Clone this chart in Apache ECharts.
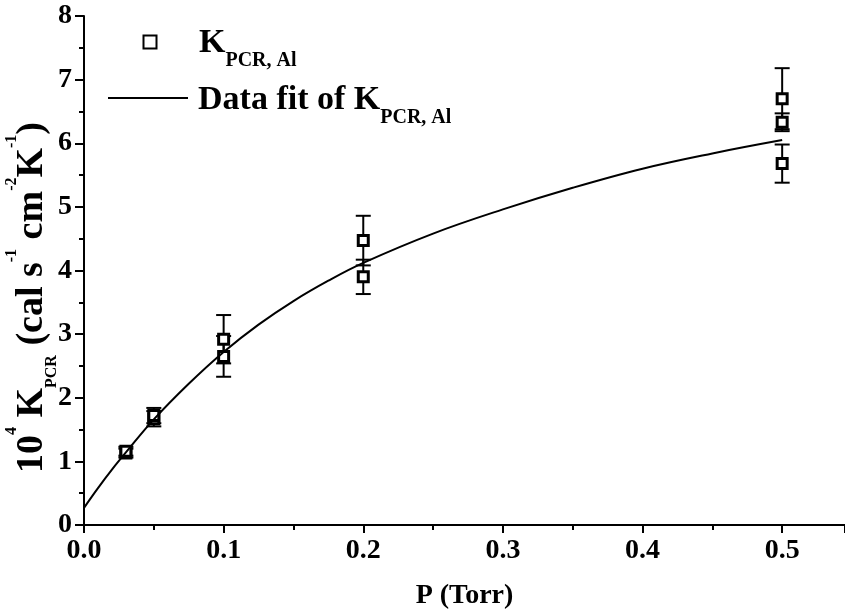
<!DOCTYPE html>
<html>
<head>
<meta charset="utf-8">
<script src="https://cdn.jsdelivr.net/npm/echarts@6/dist/echarts.min.js"></script>
<style>
html,body{margin:0;padding:0;background:#fff;}
#c{width:845px;height:615px;}
</style>
</head>
<body>
<div id="c"></div>
<script>
// measured data
var pressure = [0.03, 0.03, 0.05, 0.05, 0.1, 0.1, 0.2, 0.2, 0.5, 0.5, 0.5];
var kpcr     = [1.13, 1.16, 1.67, 1.72, 2.92, 2.65, 4.47, 3.90, 6.70, 6.33, 5.68];
var kerr     = [0.07, 0.07, 0.12, 0.12, 0.38, 0.32, 0.39, 0.27, 0.48, 0.14, 0.30];
// fit curve
var fitX = [0, 0.01, 0.02, 0.03, 0.05, 0.075, 0.1, 0.125, 0.15, 0.175, 0.2, 0.25, 0.3, 0.35, 0.4, 0.45, 0.5];
var fitY = [0.27, 0.58, 0.87, 1.14, 1.66, 2.22, 2.72, 3.15, 3.52, 3.84, 4.12, 4.58, 4.96, 5.30, 5.60, 5.84, 6.05];
var xTicks = ['0.0','0.1','0.2','0.3','0.4','0.5'];
var yTicks = ['0','1','2','3','4','5','6','7','8'];

var FONT = '"Liberation Serif","Times New Roman",serif';

var scatterData = pressure.map(function(p,i){return [p,kpcr[i]];});
var errData = pressure.map(function(p,i){return [p,kpcr[i]-kerr[i],kpcr[i]+kerr[i]];});
var fitData = fitX.map(function(x,i){return [x,fitY[i]];});

var chart = echarts.init(document.getElementById('c'), null, {renderer:'canvas'});
var base = {fontFamily:FONT, fontWeight:'bold', color:'#000'};
function rs(o){return Object.assign({}, base, o);}

chart.setOption({
  backgroundColor:'#fff',
  animation:false,
  grid:{left:84, right:0, top:16, bottom:90, containLabel:false, outerBoundsMode:'none'},
  legend:[
    {
      orient:'horizontal', left:142.5, top:12.75, padding:0, itemWidth:13, itemHeight:13,
      selectedMode:false, icon:'rect',
      data:['k'],
      formatter:function(){return '{m|K}{s|PCR, Al}';},
      textStyle:{
        padding:[0,0,0,37.5],
        rich:{
          m: rs({fontSize:34, lineHeight:36, padding:[3,0,0,0]}),
          s: rs({fontSize:20, lineHeight:20, padding:[38.5,0,0,0]})
        }
      }
    },
    {
      orient:'horizontal', left:108, top:67.75, padding:0, itemWidth:80, itemHeight:2,
      selectedMode:false, icon:'rect',
      data:['fit'],
      formatter:function(){return '{m|Data fit of K}{s|PCR, Al}';},
      textStyle:{
        padding:[0,0,0,5],
        rich:{
          m: rs({fontSize:34, lineHeight:36, padding:[5,0,0,0]}),
          s: rs({fontSize:20, lineHeight:20, padding:[40.5,0,0,0]})
        }
      }
    }
  ],
  xAxis:{
    type:'value', min:0, max:0.545, interval:0.1,
    axisLine:{onZero:false, lineStyle:{color:'#000', width:2}},
    axisTick:{show:true, inside:false, length:8, lineStyle:{color:'#000', width:2}},
    minorTick:{show:true, splitNumber:2, length:5, lineStyle:{color:'#000', width:2}},
    splitLine:{show:false},
    axisLabel:{margin:12, showMaxLabel:false, fontFamily:FONT, fontWeight:'bold', fontSize:28, color:'#000',
      formatter:function(v){var i=Math.round(v*10); if(Math.abs(v*10-i)>1e-6) return ''; return xTicks[i]!==undefined?xTicks[i]:'';}},
    name:'P (Torr)', nameLocation:'middle', nameGap:57, nameMoveOverlap:false,
    nameTextStyle:{fontFamily:FONT, fontWeight:'bold', fontSize:28, color:'#000'}
  },
  yAxis:{
    type:'value', min:0, max:8, interval:1,
    axisLine:{show:true, onZero:false, lineStyle:{color:'#000', width:2}},
    axisTick:{show:true, inside:false, length:9, lineStyle:{color:'#000', width:2}},
    minorTick:{show:true, splitNumber:2, length:5, lineStyle:{color:'#000', width:2}},
    splitLine:{show:false},
    axisLabel:{margin:12, fontFamily:FONT, fontWeight:'bold', fontSize:28, color:'#000',
      formatter:function(v){return yTicks[Math.round(v)]!==undefined?yTicks[Math.round(v)]:'';}},
    name:'{m|10}{p|4}{m| K}{s|PCR}{m| (cal s}{p|-1}{m| cm}{p|-2}{m|K}{p|-1}{m|)}',
    nameLocation:'middle', nameGap:32.5, nameRotate:90, nameMoveOverlap:false,
    nameTextStyle:{
      padding:[0,54,0,0],
      rich:{
        m: rs({fontSize:38, lineHeight:38}),
        p: rs({fontSize:16, lineHeight:16, padding:[0,0,42,0]}),
        s: rs({fontSize:16, lineHeight:16, padding:[38,0,0,0]})
      }
    }
  },
  series:[
    {
      type:'custom', name:'err', z:1, silent:true,
      data:errData,
      encode:{x:0, y:[1,2]},
      renderItem:function(params, api){
        var x=api.value(0), lo=api.coord([x,api.value(1)]), hi=api.coord([x,api.value(2)]);
        var hw=7.5;
        var st={stroke:'#000', lineWidth:2};
        return {type:'group', children:[
          {type:'line', shape:{x1:lo[0],y1:lo[1],x2:hi[0],y2:hi[1]}, style:st},
          {type:'line', shape:{x1:lo[0]-hw,y1:lo[1],x2:lo[0]+hw,y2:lo[1]}, style:st},
          {type:'line', shape:{x1:hi[0]-hw,y1:hi[1],x2:hi[0]+hw,y2:hi[1]}, style:st}
        ]};
      }
    },
    {
      type:'scatter', name:'k', z:2, data:scatterData,
      symbol:'rect', symbolSize:10,
      itemStyle:{color:'#fff', borderColor:'#000', borderWidth:3, opacity:1}
    },
    {
      type:'line', name:'fit', z:3, data:fitData, smooth:0.4, showSymbol:false, symbol:'none',
      lineStyle:{color:'#000', width:2}, itemStyle:{color:'#000'}
    }
  ]
});
</script>
</body>
</html>
